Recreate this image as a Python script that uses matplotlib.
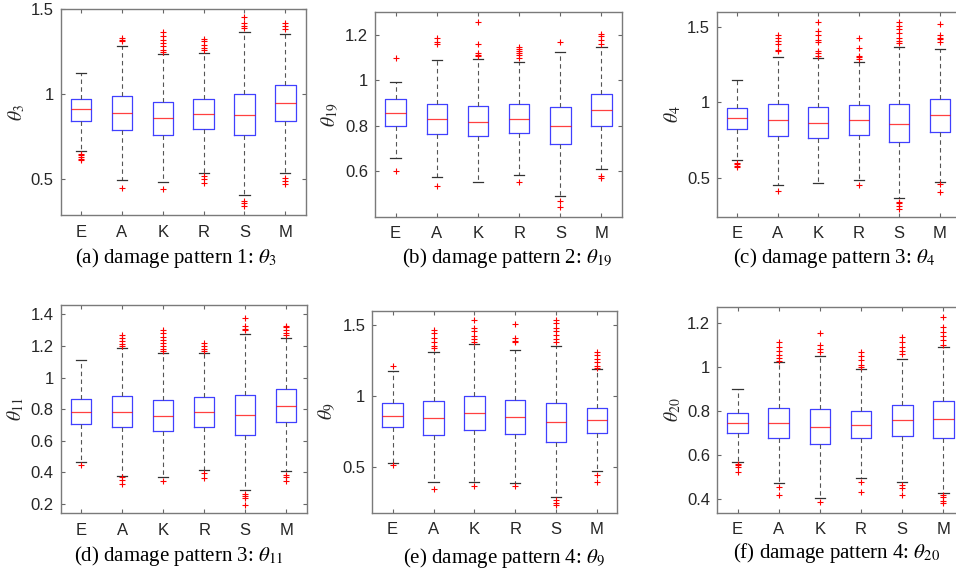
import matplotlib
matplotlib.use("Agg")
import matplotlib.pyplot as plt

plt.rcParams['font.family'] = ['Liberation Sans', 'DejaVu Sans']
plt.rcParams['mathtext.fontset'] = 'stix'

methods = ['E', 'A', 'K', 'R', 'S', 'M']

# (a) damage pattern 1, theta_3
a_lo = [0.667, 0.494, 0.484, 0.537, 0.409, 0.537]
a_q1 = [0.844, 0.791, 0.760, 0.793, 0.758, 0.841]
a_med = [0.911, 0.890, 0.858, 0.886, 0.876, 0.947]
a_q3 = [0.970, 0.986, 0.955, 0.974, 0.998, 1.051]
a_hi = [1.124, 1.285, 1.236, 1.242, 1.366, 1.354]
a_out = [[0.65, 0.64, 0.63, 0.62, 0.61],
         [1.33, 1.32, 1.31, 0.45],
         [1.366, 1.34, 1.32, 1.30, 1.28, 1.26, 1.25, 0.44],
         [1.325, 1.31, 1.29, 1.27, 1.26, 0.52, 0.50, 0.48],
         [1.45, 1.42, 1.40, 1.39, 0.375, 0.36, 0.34],
         [1.415, 1.40, 1.38, 0.51, 0.49, 0.47]]

# (b) damage pattern 2, theta_19
b_lo = [0.659, 0.575, 0.551, 0.582, 0.493, 0.608]
b_q1 = [0.800, 0.764, 0.754, 0.768, 0.720, 0.800]
b_med = [0.857, 0.830, 0.819, 0.831, 0.800, 0.870]
b_q3 = [0.917, 0.897, 0.889, 0.895, 0.882, 0.939]
b_hi = [0.993, 1.092, 1.095, 1.083, 1.124, 1.147]
b_out = [[1.10, 0.60],
         [1.186, 1.169, 1.16, 0.534],
         [1.259, 1.159, 1.121, 1.114, 1.106],
         [1.147, 1.138, 1.13, 1.12, 1.11, 1.10, 0.551],
         [1.169, 0.47, 0.444],
         [1.205, 1.195, 1.18, 1.16, 0.579, 0.572]]

# (c) damage pattern 3, theta_4
c_lo = [0.616, 0.452, 0.464, 0.486, 0.366, 0.468]
c_q1 = [0.823, 0.775, 0.762, 0.784, 0.735, 0.801]
c_med = [0.894, 0.883, 0.863, 0.881, 0.859, 0.914]
c_q3 = [0.962, 0.987, 0.971, 0.982, 0.987, 1.022]
c_hi = [1.152, 1.305, 1.298, 1.269, 1.369, 1.353]
c_out = [[0.60, 0.59, 0.58, 0.57],
         [1.446, 1.43, 1.41, 1.39, 1.35, 1.34, 0.413],
         [1.534, 1.475, 1.45, 1.415, 1.40, 1.34, 1.33, 1.31],
         [1.428, 1.364, 1.31, 1.30, 1.29, 0.448],
         [1.534, 1.51, 1.49, 1.46, 1.43, 1.41, 1.395, 0.34, 0.33, 0.31, 0.29],
         [1.525, 1.45, 1.43, 1.42, 1.40, 0.46, 0.404]]

# (d) damage pattern 3, theta_11
d_lo = [0.463, 0.378, 0.372, 0.412, 0.285, 0.408]
d_q1 = [0.705, 0.684, 0.662, 0.690, 0.637, 0.718]
d_med = [0.783, 0.783, 0.758, 0.783, 0.762, 0.822]
d_q3 = [0.866, 0.883, 0.858, 0.877, 0.890, 0.930]
d_hi = [1.113, 1.189, 1.153, 1.157, 1.274, 1.250]
d_out = [[0.446],
         [1.27, 1.25, 1.23, 1.21, 1.20, 0.37, 0.35, 0.329],
         [1.30, 1.28, 1.26, 1.24, 1.22, 1.20, 1.18, 1.17, 0.348],
         [1.22, 1.20, 1.18, 1.17, 0.393, 0.361],
         [1.38, 1.33, 1.31, 1.30, 0.265, 0.25, 0.24, 0.19],
         [1.33, 1.32, 1.30, 1.28, 1.27, 0.386, 0.372, 0.344]]

# (e) damage pattern 4, theta_9
e_lo = [0.530, 0.393, 0.397, 0.386, 0.290, 0.474]
e_q1 = [0.783, 0.729, 0.762, 0.736, 0.678, 0.738]
e_med = [0.862, 0.848, 0.881, 0.853, 0.815, 0.829]
e_q3 = [0.949, 0.965, 1.002, 0.974, 0.953, 0.918]
e_hi = [1.173, 1.311, 1.367, 1.325, 1.350, 1.187]
e_out = [[1.213, 0.514],
         [1.467, 1.44, 1.41, 1.38, 1.35, 1.34, 0.346],
         [1.537, 1.48, 1.46, 1.42, 1.40, 1.38, 0.367],
         [1.507, 1.41, 1.39, 1.38, 0.369],
         [1.535, 1.51, 1.48, 1.46, 1.43, 1.40, 1.38, 0.27, 0.25, 0.234],
         [1.31, 1.29, 1.26, 1.24, 1.21, 1.20, 0.444, 0.397]]

# (f) damage pattern 4, theta_20
f_lo = [0.571, 0.473, 0.406, 0.499, 0.481, 0.431]
f_q1 = [0.703, 0.676, 0.649, 0.677, 0.689, 0.680]
f_med = [0.748, 0.745, 0.728, 0.739, 0.758, 0.764]
f_q3 = [0.793, 0.815, 0.810, 0.802, 0.829, 0.847]
f_hi = [0.902, 1.023, 1.050, 0.989, 1.035, 1.092]
f_out = [[0.56, 0.555, 0.545, 0.526],
         [1.111, 1.09, 1.07, 1.055, 1.04, 1.025, 0.458, 0.422],
         [1.152, 1.10, 1.08, 1.066, 0.389],
         [1.066, 1.05, 1.03, 1.01, 1.0, 0.48, 0.433],
         [1.137, 1.115, 1.09, 1.07, 1.06, 0.466, 0.45, 0.418],
         [1.228, 1.18, 1.16, 1.14, 1.12, 1.10, 0.42, 0.41, 0.395, 0.383]]

panels = [
    ((a_lo, a_q1, a_med, a_q3, a_hi, a_out), r'$\theta_{3}$',
     r'(a) damage pattern 1: $\theta_{3}$', (0.29, 1.5), [0.5, 1, 1.5], ['0.5', '1', '1.5'],
     [0.0635, 0.6235, 0.2563, 0.3608], (176, 258)),
    ((b_lo, b_q1, b_med, b_q3, b_hi, b_out), r'$\theta_{19}$',
     r'(b) damage pattern 2: $\theta_{19}$', (0.4, 1.3), [0.6, 0.8, 1, 1.2], ['0.6', '0.8', '1', '1.2'],
     [0.3923, 0.6205, 0.2584, 0.3580], (507, 258)),
    ((c_lo, c_q1, c_med, c_q3, c_hi, c_out), r'$\theta_{4}$',
     r'(c) damage pattern 3: $\theta_{4}$', (0.24, 1.6), [0.5, 1, 1.5], ['0.5', '1', '1.5'],
     [0.7500, 0.6205, 0.2542, 0.3580], (834, 258)),
    ((d_lo, d_q1, d_med, d_q3, d_hi, d_out), r'$\theta_{11}$',
     r'(d) damage pattern 3: $\theta_{11}$', (0.14, 1.46), [0.2, 0.4, 0.6, 0.8, 1, 1.2, 1.4],
     ['0.2', '0.4', '0.6', '0.8', '1', '1.2', '1.4'],
     [0.0635, 0.1010, 0.2573, 0.3648], (179, 556)),
    ((e_lo, e_q1, e_med, e_q3, e_hi, e_out), r'$\theta_{9}$',
     r'(e) damage pattern 4: $\theta_{9}$', (0.18, 1.6), [0.5, 1, 1.5], ['0.5', '1', '1.5'],
     [0.3894, 0.1021, 0.2563, 0.3538], (504, 558)),
    ((f_lo, f_q1, f_med, f_q3, f_hi, f_out), r'$\theta_{20}$',
     r'(f) damage pattern 4: $\theta_{20}$', (0.34, 1.27), [0.4, 0.6, 0.8, 1, 1.2],
     ['0.4', '0.6', '0.8', '1', '1.2'],
     [0.7500, 0.1021, 0.2584, 0.3597], (837, 553)),
]

W, H = 956, 571
fig = plt.figure(figsize=(W / 100, H / 100), dpi=100)

for (lo, q1, med, q3, hi, out), ylab, caption, ylim, yt, ytl, pos, cap_xy in panels:
    ax = fig.add_axes(pos)
    stats = []
    for i, m in enumerate(methods):
        stats.append(dict(label=m, whislo=lo[i], q1=q1[i], med=med[i],
                          q3=q3[i], whishi=hi[i], fliers=out[i]))
    ax.bxp(stats, positions=range(1, 7), widths=0.5, capwidths=0.25,
           boxprops=dict(color='#0000ff', linewidth=0.9, alpha=0.75),
           medianprops=dict(color='#ff0000', linewidth=0.9, alpha=0.75),
           whiskerprops=dict(color='#555555', linewidth=0.8, linestyle=(0, (4, 3))),
           capprops=dict(color='#333333', linewidth=0.9),
           flierprops=dict(marker='+', markeredgecolor='#ff0000', markersize=4.5,
                           markeredgewidth=0.8, linestyle='none'))
    ax.set_xlim(0.5, 6.5)
    ax.set_ylim(*ylim)
    ax.set_yticks(yt)
    ax.set_yticklabels(ytl)
    ax.set_xticks(range(1, 7))
    ax.set_xticklabels(methods)
    ax.tick_params(direction='in', length=3, width=0.8, color='#666666',
                   top=True, right=True, labelsize=12, labelcolor='#262626')
    ax.tick_params(axis='y', pad=5)
    ax.tick_params(axis='x', pad=7)
    for sp in ax.spines.values():
        sp.set_color('#7a7a7a')
        sp.set_linewidth(1.0)
    ax.set_ylabel(ylab, fontsize=14, color='#262626', labelpad=3)
    fig.text(cap_xy[0] / W, 1 - cap_xy[1] / H, caption, ha='center', va='center',
             family='Liberation Serif', fontsize=15)

fig.savefig('out.png', dpi=100)
